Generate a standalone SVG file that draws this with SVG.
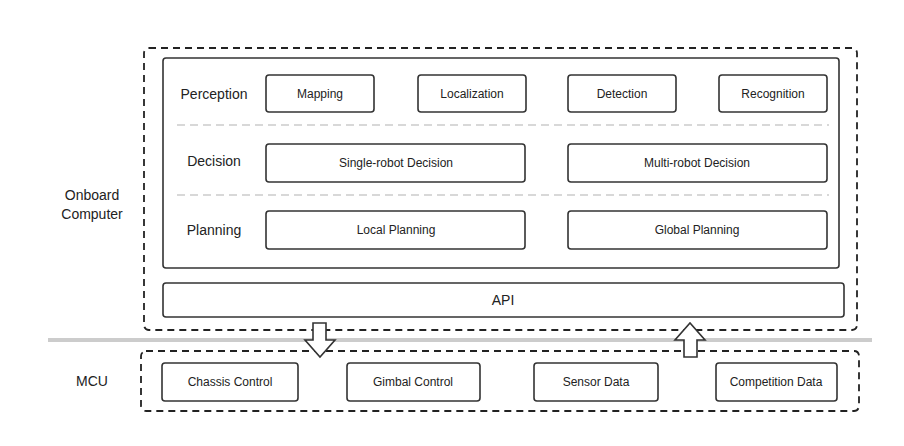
<svg xmlns="http://www.w3.org/2000/svg" width="904" height="446" viewBox="0 0 904 446">
<style>
text{font-family:"Liberation Sans",Arial,sans-serif;fill:#222;text-anchor:middle;dominant-baseline:central}
.b{fill:#fff;stroke:#333;stroke-width:1.6}
.s{font-size:12px}
.l{font-size:14px}
.d{fill:none;stroke:#222;stroke-width:1.8;stroke-dasharray:7,5}
.g{stroke:#ccc;stroke-width:1.5;stroke-dasharray:8,5}
</style>
<rect width="904" height="446" fill="#fff"/>
<line x1="48" y1="340" x2="872" y2="340" stroke="#ccc" stroke-width="4"/>
<rect class="d" x="144" y="48" width="713" height="282" rx="5"/>
<rect class="d" x="141" y="351" width="718" height="60" rx="5"/>
<rect class="b" x="163" y="58" width="676" height="210" rx="3"/>
<line class="g" x1="177" y1="125" x2="829" y2="125"/>
<line class="g" x1="177" y1="195" x2="829" y2="195"/>
<text class="l" x="92" y="195">Onboard</text>
<text class="l" x="92" y="214">Computer</text>
<text class="l" x="92" y="381">MCU</text>
<text class="l" x="214" y="94">Perception</text>
<text class="l" x="214" y="161">Decision</text>
<text class="l" x="214" y="230">Planning</text>
<g id="mapping"><rect class="b" x="266" y="75" width="108" height="37" rx="3"/><text class="s" x="320" y="94">Mapping</text></g>
<g id="localization"><rect class="b" x="418" y="75" width="108" height="37" rx="3"/><text class="s" x="472" y="94">Localization</text></g>
<g id="detection"><rect class="b" x="568" y="75" width="108" height="37" rx="3"/><text class="s" x="622" y="94">Detection</text></g>
<g id="recognition"><rect class="b" x="719" y="75" width="108" height="37" rx="3"/><text class="s" x="773" y="94">Recognition</text></g>
<g id="single"><rect class="b" x="266" y="144" width="259" height="38" rx="3"/><text class="s" x="396" y="163">Single-robot Decision</text></g>
<g id="multi"><rect class="b" x="568" y="144" width="259" height="38" rx="3"/><text class="s" x="697" y="163">Multi-robot Decision</text></g>
<g id="local"><rect class="b" x="266" y="211" width="259" height="38" rx="3"/><text class="s" x="396" y="230">Local Planning</text></g>
<g id="global"><rect class="b" x="568" y="211" width="259" height="38" rx="3"/><text class="s" x="697" y="230">Global Planning</text></g>
<g id="api"><rect class="b" x="163" y="283" width="681" height="34" rx="3"/><text class="l" x="503" y="300">API</text></g>
<g id="chassis"><rect class="b" x="162" y="363" width="136" height="38" rx="3"/><text class="s" x="230" y="382">Chassis Control</text></g>
<g id="gimbal"><rect class="b" x="347" y="363" width="133" height="38" rx="3"/><text class="s" x="413" y="382">Gimbal Control</text></g>
<g id="sensor"><rect class="b" x="534" y="363" width="124" height="38" rx="3"/><text class="s" x="596" y="382">Sensor Data</text></g>
<g id="competition"><rect class="b" x="716" y="363" width="121" height="38" rx="3"/><text class="s" x="776" y="382">Competition Data</text></g>
<g id="connectors" fill="#fff" stroke="#333" stroke-width="1.6">
<polygon points="313,323 326,323 326,340 335,340 320,357 305,340 313,340"/>
<polygon points="684,357 697,357 697,340 705,340 690,323 675,340 684,340"/>
</g>
</svg>
